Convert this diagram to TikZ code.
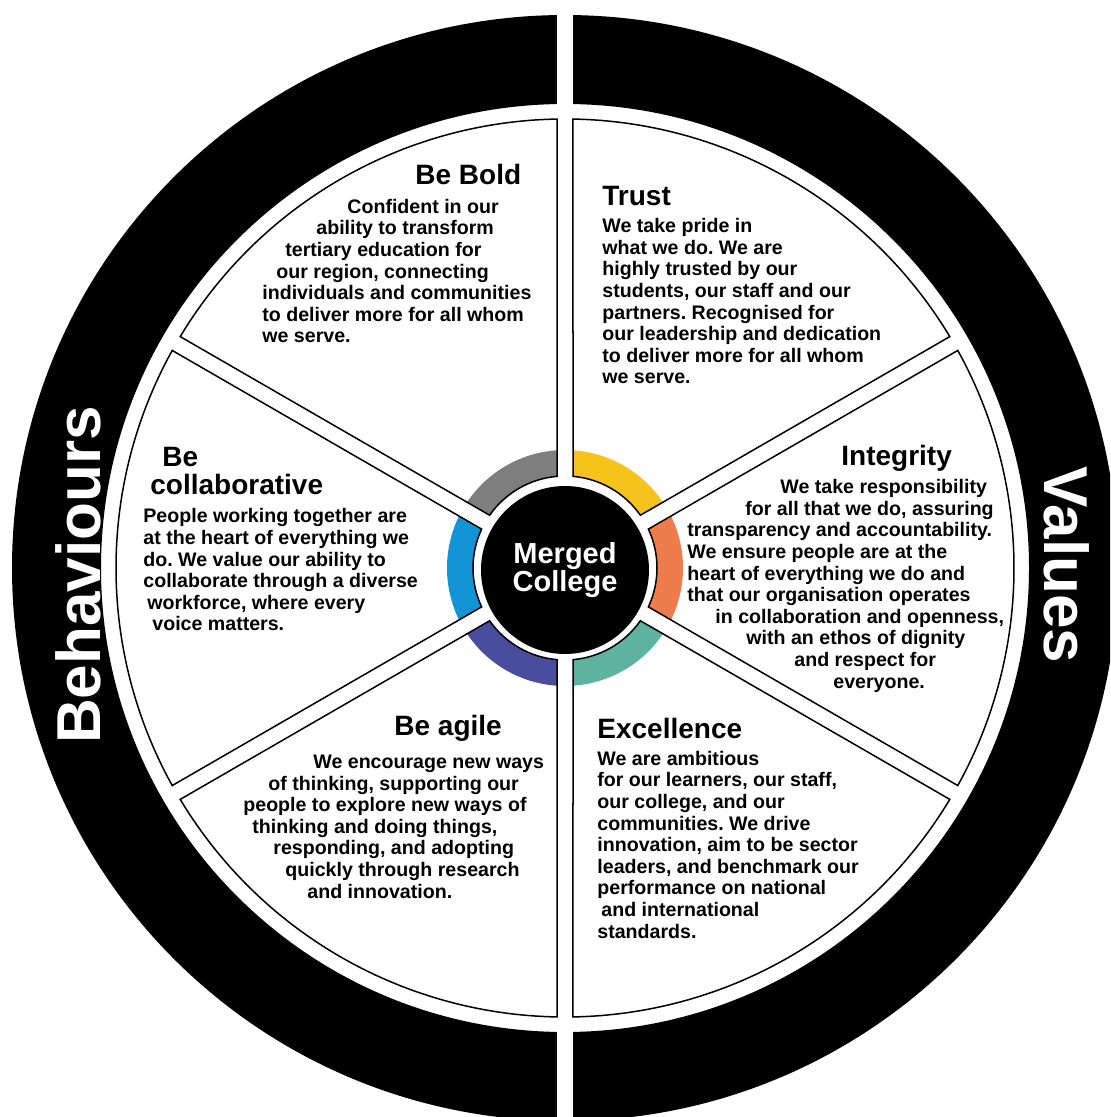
\documentclass[tikz,border=0pt]{standalone}
\usepackage{fontspec}
\setmainfont{Liberation Sans}
\frenchspacing

\definecolor{segyellow}{HTML}{F6C21C}
\definecolor{seggray}{HTML}{7E7E7E}
\definecolor{segblue}{HTML}{1394D4}
\definecolor{segindigo}{HTML}{4A4D9D}
\definecolor{segteal}{HTML}{5EB2A0}
\definecolor{segorange}{HTML}{EE7C4C}

\tikzset{
  wedge/.style={draw=black, line width=0.75pt},
  head/.style={font=\fontsize{14}{14}\selectfont\bfseries, inner sep=0pt, anchor=base west, align=left},
  body/.style={font=\fontsize{9.8}{10.8}\selectfont\bfseries, inner sep=0pt, anchor=base west, align=left},
  ringlabel/.style={font=\fontsize{31}{31}\selectfont\bfseries, text=white, inner sep=0pt},
  hub/.style={circle, fill=black, minimum size=84pt, inner sep=0pt, text=white, align=center,
    font=\fontsize{14.5}{14}\selectfont\bfseries}
}

\begin{document}
\begin{tikzpicture}[x=0.5pt, y=0.5pt]
    \clip (-565,-549) rectangle (545,568);
    \fill[white] (-565,-549) rectangle (545,568);

    % outer ring, two halves
    \fill (90.83:553) arc[start angle=90.83, end angle=269.17, radius=553]
        -- (269.01:464) arc[start angle=269.01, end angle=90.99, radius=464] -- cycle;
    \fill (-89.17:553) arc[start angle=-89.17, end angle=89.17, radius=553]
        -- (89.01:464) arc[start angle=89.01, end angle=-89.01, radius=464] -- cycle;
    \node[ringlabel, rotate=90] (behav) at (-487,-7) {Behaviours};
    \node[ringlabel, rotate=-90] (values) at (502,3) {Values};

    % six segments with coloured inner bands
    \foreach \a/\col in {30/segyellow, 90/seggray, 150/segblue, 210/segindigo, 270/segteal, 330/segorange} {
        \fill[\col] (\a+3.89:118) arc[start angle=\a+3.89, end angle=\a+56.11, radius=118]
            -- (\a+55.01:92) arc[start angle=\a+55.01, end angle=\a+4.99, radius=92] -- cycle;
        \draw[wedge] (\a+1.02:449) arc[start angle=\a+1.02, end angle=\a+58.98, radius=449]
            -- (\a+55.01:92) arc[start angle=\a+55.01, end angle=\a+4.99, radius=92] -- cycle;
    }

    \node[hub] (hub) at (0,-2) {Merged\\College};

    % behaviours (text nodes sit on the baseline of their last line)
    \node[head] (bold) at (-150,383) {Be Bold};
    \node[body] (boldtext) at (-303,225) {\hspace*{42.5pt}Confident in our\\
        \hspace*{27pt}ability to transform\\
        \hspace*{11.5pt}tertiary education for\\
        \hspace*{7pt}our region, connecting\\
        individuals and communities\\
        to deliver more for all whom\\
        we serve.};

    \node[head] (collab) at (-415,73) {\hspace*{6pt}Be\\collaborative};
    \node[body] (collabtext) at (-422,-63) {People working together are\\
        at the heart of everything we\\
        do. We value our ability to\\
        collaborate through a diverse\\
        \hspace*{2pt}workforce, where every\\
        \hspace*{4.5pt}voice matters.};

    \node[head] (agile) at (-171,-167) {Be agile};
    \node[body] (agiletext) at (-322,-330) {\hspace*{35pt}We encourage new ways\\
        \hspace*{12.5pt}of thinking, supporting our\\
        people to explore new ways of\\
        \hspace*{4.5pt}thinking and doing things,\\
        \hspace*{15pt}responding, and adopting\\
        \hspace*{21pt}quickly through research\\
        \hspace*{32pt}and innovation.};

    % values
    \node[head] (trust) at (37,362) {Trust};
    \node[body] (trusttext) at (37,184) {We take pride in\\
        what we do. We are\\
        highly trusted by our\\
        students, our staff and our\\
        partners. Recognised for\\
        our leadership and dedication\\
        to deliver more for all whom\\
        we serve.};

    \node[head] (integ) at (276,102) {Integrity};
    \node[body] (integtext) at (122,-120) {\hspace*{46.5pt}We take responsibility\\
        \hspace*{29pt}for all that we do, assuring\\
        transparency and accountability.\\
        We ensure people are at the\\
        heart of everything we do and\\
        that our organisation operates\\
        \hspace*{14pt}in collaboration and openness,\\
        \hspace*{29.5pt}with an ethos of dignity\\
        \hspace*{53.5pt}and respect for\\
        \hspace*{73pt}everyone.};

    \node[head] (excel) at (32,-170) {Excellence};
    \node[body] (exceltext) at (32,-370) {We are ambitious\\
        for our learners, our staff,\\
        our college, and our\\
        communities. We drive\\
        innovation, aim to be sector\\
        leaders, and benchmark our\\
        performance on national\\
        \hspace*{2pt}and international\\
        standards.};
\end{tikzpicture}
\end{document}
